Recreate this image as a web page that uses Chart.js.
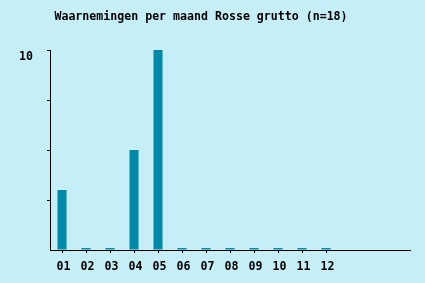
<!DOCTYPE html>
<html>
<head>
<meta charset="utf-8">
<script src="https://cdn.jsdelivr.net/npm/chart.js@4"></script>
<style>
  html, body { margin: 0; padding: 0; background: #c6eef7; }
  #wrap { width: 425px; height: 283px; }
</style>
</head>
<body>
<div id="wrap"><canvas id="chart" width="425" height="283"></canvas></div>
<script>
// months on the x axis; the axis runs on for three empty slots after 12
const months = ['01', '02', '03', '04', '05', '06', '07', '08', '09', '10', '11', '12', '', '', ''];
const counts = [3, 0, 0, 5, 10, 0, 0, 0, 0, 0, 0, 0];
const yLabels = { 10: '10' };
const titleText = 'Waarnemingen per maand Rosse grutto (n=18)';

const FONT = { family: '"DejaVu Sans Mono", "Liberation Mono", monospace', size: 11.6, weight: 'bold' };

// title is drawn a bit left of centre, like the original
const titlePlugin = {
    id: 'plainTitle',
    afterDraw(chart) {
        const ctx = chart.ctx;
        ctx.save();
        ctx.font = `bold ${FONT.size}px ${FONT.family}`;
        ctx.fillStyle = '#000';
        ctx.textAlign = 'center';
        ctx.textBaseline = 'middle';
        ctx.fillText(titleText, 201, 16.5);
        ctx.restore();
    }
};

new Chart(document.getElementById('chart'), {
    type: 'bar',
    data: {
        labels: months,
        datasets: [{
            data: counts,
            backgroundColor: '#0088a8',
            barPercentage: 0.75,
            categoryPercentage: 0.5,
            minBarLength: 2
        }]
    },
    options: {
        responsive: false,
        animation: false,
        layout: { padding: { top: 50, right: 15, left: 0, bottom: 0 } },
        plugins: { legend: { display: false }, title: { display: false }, tooltip: { enabled: false } },
        scales: {
            x: {
                afterFit(s) { s.height = 33; },
                grid: {
                    drawOnChartArea: false,
                    offset: false,
                    tickLength: 3,
                    tickColor: c => c.index < 12 ? '#000' : 'rgba(0,0,0,0)'
                },
                border: { color: '#000', width: 1 },
                ticks: { color: '#000', font: FONT, padding: 7, labelOffset: 1.5, maxRotation: 0, autoSkip: false }
            },
            y: {
                min: 0,
                max: 10,
                afterFit(s) { s.width = 50; },
                grid: {
                    drawOnChartArea: false,
                    tickLength: 3,
                    tickColor: c => c.tick.value === 0 ? 'rgba(0,0,0,0)' : '#000'
                },
                border: { color: '#000', width: 1 },
                ticks: {
                    stepSize: 2.5,
                    color: '#000',
                    font: FONT,
                    padding: 14,
                    labelOffset: 7,
                    callback: v => yLabels[v] || ''
                }
            }
        }
    },
    plugins: [titlePlugin]
});
</script>
</body>
</html>
